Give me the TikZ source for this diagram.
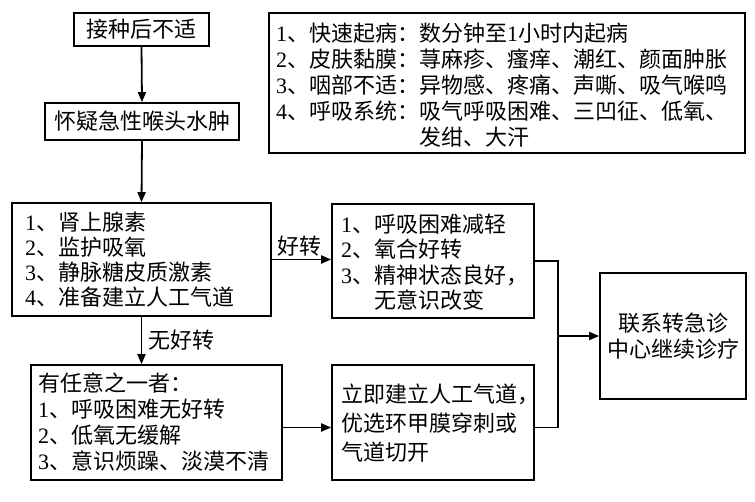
\documentclass[tikz,border=0pt]{standalone}
\usepackage{fontspec}
\setmainfont{Noto Sans CJK SC}
\newfontfamily\latf{Liberation Serif}
\newcommand\dg[1]{{\latf #1}}
\usetikzlibrary{arrows.meta}
\begin{document}
\begin{tikzpicture}[x=1pt,y=-1pt,
  box/.style={draw, line width=1.6pt, inner sep=0pt},
  txt/.style={inner sep=0pt, align=left, font=\fontsize{22}{26}\selectfont},
  arr/.style={line width=1.8pt, -{Triangle[length=10pt,width=8pt]}},
  lbl/.style={inner sep=0pt, font=\fontsize{22}{26}\selectfont}]
\useasboundingbox (0,0) rectangle (755,501);
% boxes
\node[box, minimum width=135, minimum height=33] (a) at (141.5,29.5) {};
\node[box, minimum width=194, minimum height=37] (b) at (142,121.5) {};
\node[box, minimum width=476, minimum height=140] (r) at (507,83) {};
\node[box, minimum width=259, minimum height=113] (c) at (141.5,259.5) {};
\node[box, minimum width=202, minimum height=114] (d) at (433,261) {};
\node[box, minimum width=251, minimum height=115] (e) at (156.5,422.5) {};
\node[box, minimum width=202, minimum height=115] (f) at (433,422.5) {};
\node[box, minimum width=146, minimum height=126] (g) at (673,336) {};
% texts
\node[txt] (at) at (a.center) {接种后不适};
\node[txt] (bt) at (b.center) {怀疑急性喉头水肿};
\node[txt, anchor=west] (rt) at (276,85) {\dg{1}、快速起病：数分钟至\dg{1}小时内起病\\
\dg{2}、皮肤黏膜：荨麻疹、瘙痒、潮红、颜面肿胀\\
\dg{3}、咽部不适：异物感、疼痛、声嘶、吸气喉鸣\\
\dg{4}、呼吸系统：吸气呼吸困难、三凹征、低氧、\\
\phantom{\dg{4}、呼吸系统：}发绀、大汗};
\node[txt, anchor=west, font=\fontsize{22}{25}\selectfont] (ct) at (25,260) {\dg{1}、肾上腺素\\
\dg{2}、监护吸氧\\
\dg{3}、静脉糖皮质激素\\
\dg{4}、准备建立人工气道};
\node[txt, anchor=west, font=\fontsize{22}{25.5}\selectfont] (dt) at (341,262) {\dg{1}、呼吸困难减轻\\
\dg{2}、氧合好转\\
\dg{3}、精神状态良好，\\
\phantom{\dg{3}、}无意识改变};
\node[txt, anchor=west] (et) at (38,422.5) {有任意之一者：\\
\dg{1}、呼吸困难无好转\\
\dg{2}、低氧无缓解\\
\dg{3}、意识烦躁、淡漠不清};
\node[txt, anchor=west, font=\fontsize{22}{29}\selectfont] (ft) at (341,423) {立即建立人工气道，\\
优选环甲膜穿刺或\\
气道切开};
\node[txt, align=center] (gt) at (g.center) {联系转急诊\\中心继续诊疗};
% connectors
\draw[arr] (a.south) -- (b.north);
\draw[arr] (b.south) -- (c.north);
\draw[arr] (c.east) -- (c.east -| d.west);
\node[lbl] (l1) at (299,246) {好转};
\draw[arr] (c.south) -- (c.south |- e.north);
\node[lbl] (l2) at (181,340) {无好转};
\draw[arr] ([yshift=-5pt]e.east) -- ([yshift=-5pt]e.east -| f.west);
\coordinate (j) at (558,336);
\draw[line width=1.8pt] (d.east) -| (j) |- ([yshift=-5pt]f.east);
\draw[arr] (j) -- (g.west);
\end{tikzpicture}
\end{document}
